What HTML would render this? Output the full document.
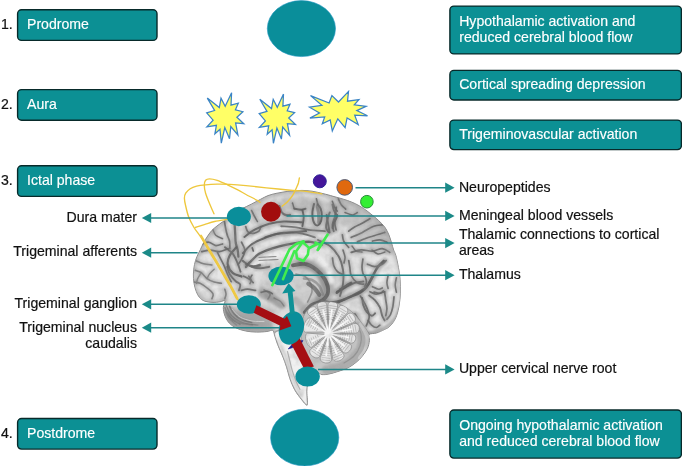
<!DOCTYPE html>
<html lang="en">
<head>
<meta charset="utf-8">
<title>Migraine phases</title>
<style>
html,body{margin:0;padding:0;background:#fff;}
body{width:682px;height:466px;overflow:hidden;position:relative;font-family:"Liberation Sans",Arial,sans-serif;}
svg{position:absolute;left:0;top:0;display:block;will-change:transform;}
svg text{font-family:"Liberation Sans",Arial,sans-serif;font-size:14.1px;}
.w{fill:#fff;stroke:#fff;stroke-width:0.15px;}
.k{fill:#111;stroke:#111;stroke-width:0.2px;}
.bx{fill:#0c9094;stroke:#082a2a;stroke-width:1.4;}
.ar{stroke:#1f8588;stroke-width:1.5;fill:none;}
.ah{fill:#1b8a88;}
.tl{fill:#0a8e9a;stroke:#1d93bf;stroke-width:0.6;}
</style>
</head>
<body>
<svg width="682" height="466" viewBox="0 0 682 466">
<defs>
<filter id="b0" x="-20%" y="-20%" width="140%" height="140%"><feGaussianBlur stdDeviation="0.45"/></filter>
<filter id="b1" x="-20%" y="-20%" width="140%" height="140%"><feGaussianBlur stdDeviation="0.65"/></filter>
<filter id="b2" x="-20%" y="-20%" width="140%" height="140%"><feGaussianBlur stdDeviation="1.3"/></filter>
<filter id="b4" x="-30%" y="-30%" width="160%" height="160%"><feGaussianBlur stdDeviation="4"/></filter>
<filter id="nz" x="0" y="0" width="100%" height="100%"><feTurbulence type="fractalNoise" baseFrequency="0.11" numOctaves="3" seed="7" result="n"/><feColorMatrix in="n" type="matrix" values="0 0 0 0 0.35  0 0 0 0 0.35  0 0 0 0 0.35  0 0 0 2.4 -0.95"/></filter>
<clipPath id="bc"><path d="M193.4,274.0 C193.5,270.9 193.9,267.3 194.5,264.4 C195.1,261.5 196.0,259.0 197.0,256.5 C198.0,254.0 199.3,251.9 200.4,249.6 C201.5,247.3 202.3,245.1 203.5,242.8 C204.7,240.5 206.3,238.1 207.7,236.0 C209.1,233.9 210.4,232.0 212.0,230.3 C213.6,228.6 215.3,227.3 217.0,226.0 C218.7,224.7 220.2,223.6 222.0,222.3 C223.8,221.1 225.5,220.0 227.5,218.5 C229.5,217.0 231.6,214.8 234.0,213.2 C236.4,211.6 239.1,210.2 242.0,208.7 C244.9,207.2 248.5,205.6 251.6,204.0 C254.7,202.4 257.7,200.8 260.4,199.4 C263.1,198.0 265.4,196.6 268.0,195.6 C270.6,194.6 273.3,194.0 276.0,193.4 C278.7,192.8 281.3,192.3 284.0,191.9 C286.7,191.5 289.0,191.2 292.0,191.0 C295.0,190.8 298.7,190.4 302.0,190.4 C305.3,190.4 308.5,190.7 312.0,191.2 C315.5,191.7 319.5,192.8 323.0,193.6 C326.5,194.4 330.2,195.5 333.0,196.3 C335.8,197.1 337.6,197.5 340.0,198.2 C342.4,198.9 345.1,199.7 347.7,200.6 C350.3,201.5 352.9,202.5 355.5,203.8 C358.1,205.1 360.6,206.5 363.2,208.2 C365.8,209.9 368.3,211.9 370.9,214.0 C373.5,216.1 376.2,218.2 378.6,220.5 C381.0,222.8 383.4,225.2 385.1,227.6 C386.8,230.0 387.9,232.6 389.0,235.1 C390.1,237.6 390.7,240.3 391.5,242.8 C392.3,245.3 392.9,247.9 393.6,250.0 C394.3,252.1 395.0,252.4 395.8,255.3 C396.6,258.2 397.7,263.3 398.4,267.3 C399.1,271.3 399.8,275.0 400.1,279.3 C400.4,283.6 400.5,288.8 400.4,293.1 C400.2,297.4 399.8,301.4 399.2,305.1 C398.6,308.8 397.7,312.5 396.7,315.4 C395.7,318.3 394.5,320.4 393.2,322.3 C391.9,324.2 390.5,325.8 389.0,327.0 C387.5,328.2 386.4,328.6 384.3,329.6 C382.2,330.6 379.0,332.2 376.5,333.0 C374.0,333.8 370.4,333.2 369.2,334.5 C368.0,335.8 369.7,338.3 369.4,340.6 C369.1,342.9 368.7,345.7 367.5,348.3 C366.3,350.9 364.3,353.6 362.4,356.0 C360.5,358.4 358.3,360.6 355.9,362.5 C353.5,364.4 351.2,366.2 348.2,367.7 C345.2,369.2 341.1,370.4 337.9,371.5 C334.7,372.6 331.5,373.5 328.9,374.0 C326.2,374.5 324.1,374.9 322.0,374.6 C319.9,374.3 318.2,371.1 316.0,372.0 C313.8,372.9 310.5,377.0 309.0,380.0 C307.5,383.0 307.1,386.1 306.9,390.0 C306.6,393.9 307.7,401.0 307.5,403.4 C307.3,405.8 307.1,405.5 305.9,404.6 C304.7,403.7 302.1,400.3 300.2,397.8 C298.3,395.3 296.3,392.9 294.6,389.7 C292.9,386.5 291.1,382.2 289.8,378.5 C288.5,374.8 287.8,371.0 286.6,367.2 C285.4,363.4 284.0,359.6 282.5,355.9 C281.0,352.1 279.0,348.2 277.7,344.7 C276.4,341.2 275.3,337.4 274.5,335.0 C273.7,332.6 274.1,331.0 272.8,330.4 C271.5,329.8 269.6,331.2 266.9,331.5 C264.1,331.8 259.8,332.2 256.3,332.1 C252.8,332.0 249.0,331.7 245.7,331.0 C242.3,330.3 238.9,329.3 236.2,328.0 C233.4,326.7 231.1,325.0 229.2,323.0 C227.3,321.0 226.0,318.6 225.0,316.0 C224.0,313.4 223.3,310.2 223.3,307.7 C223.3,305.2 225.5,301.8 225.0,300.8 C224.5,299.8 222.1,301.5 220.1,301.8 C218.1,302.1 215.6,302.5 213.0,302.4 C210.4,302.3 207.1,302.0 204.8,301.2 C202.5,300.4 200.8,298.9 199.4,297.3 C198.0,295.7 197.2,293.9 196.3,291.6 C195.4,289.3 194.5,286.2 194.0,283.3 C193.5,280.4 193.3,277.1 193.4,274.0 Z"/></clipPath>
<clipPath id="cc"><path d="M302.0,322.0 C302.8,318.0 304.0,314.8 306.0,312.0 C308.0,309.2 311.0,306.7 314.0,305.0 C317.0,303.3 320.3,302.3 324.0,302.0 C327.7,301.7 332.2,302.0 336.0,303.0 C339.8,304.0 343.7,305.8 347.0,308.0 C350.3,310.2 353.2,313.0 356.0,316.0 C358.8,319.0 361.8,322.9 364.0,326.0 C366.2,329.1 368.3,332.1 369.2,334.5 C370.1,336.9 369.7,338.3 369.4,340.6 C369.1,342.9 368.7,345.7 367.5,348.3 C366.3,350.9 364.3,353.6 362.4,356.0 C360.5,358.4 358.3,360.6 355.9,362.5 C353.5,364.4 351.2,366.2 348.2,367.7 C345.2,369.2 341.1,370.4 337.9,371.5 C334.7,372.6 331.5,373.5 328.9,374.0 C326.2,374.5 324.5,375.1 322.0,374.6 C319.5,374.1 316.5,373.1 314.0,371.0 C311.5,368.9 308.8,365.5 307.0,362.0 C305.2,358.5 304.0,354.3 303.0,350.0 C302.0,345.7 301.2,340.7 301.0,336.0 C300.8,331.3 301.2,326.0 302.0,322.0 Z"/></clipPath>
</defs>
<g id="brain">
<path d="M193.4,274.0 C193.5,270.9 193.9,267.3 194.5,264.4 C195.1,261.5 196.0,259.0 197.0,256.5 C198.0,254.0 199.3,251.9 200.4,249.6 C201.5,247.3 202.3,245.1 203.5,242.8 C204.7,240.5 206.3,238.1 207.7,236.0 C209.1,233.9 210.4,232.0 212.0,230.3 C213.6,228.6 215.3,227.3 217.0,226.0 C218.7,224.7 220.2,223.6 222.0,222.3 C223.8,221.1 225.5,220.0 227.5,218.5 C229.5,217.0 231.6,214.8 234.0,213.2 C236.4,211.6 239.1,210.2 242.0,208.7 C244.9,207.2 248.5,205.6 251.6,204.0 C254.7,202.4 257.7,200.8 260.4,199.4 C263.1,198.0 265.4,196.6 268.0,195.6 C270.6,194.6 273.3,194.0 276.0,193.4 C278.7,192.8 281.3,192.3 284.0,191.9 C286.7,191.5 289.0,191.2 292.0,191.0 C295.0,190.8 298.7,190.4 302.0,190.4 C305.3,190.4 308.5,190.7 312.0,191.2 C315.5,191.7 319.5,192.8 323.0,193.6 C326.5,194.4 330.2,195.5 333.0,196.3 C335.8,197.1 337.6,197.5 340.0,198.2 C342.4,198.9 345.1,199.7 347.7,200.6 C350.3,201.5 352.9,202.5 355.5,203.8 C358.1,205.1 360.6,206.5 363.2,208.2 C365.8,209.9 368.3,211.9 370.9,214.0 C373.5,216.1 376.2,218.2 378.6,220.5 C381.0,222.8 383.4,225.2 385.1,227.6 C386.8,230.0 387.9,232.6 389.0,235.1 C390.1,237.6 390.7,240.3 391.5,242.8 C392.3,245.3 392.9,247.9 393.6,250.0 C394.3,252.1 395.0,252.4 395.8,255.3 C396.6,258.2 397.7,263.3 398.4,267.3 C399.1,271.3 399.8,275.0 400.1,279.3 C400.4,283.6 400.5,288.8 400.4,293.1 C400.2,297.4 399.8,301.4 399.2,305.1 C398.6,308.8 397.7,312.5 396.7,315.4 C395.7,318.3 394.5,320.4 393.2,322.3 C391.9,324.2 390.5,325.8 389.0,327.0 C387.5,328.2 386.4,328.6 384.3,329.6 C382.2,330.6 379.0,332.2 376.5,333.0 C374.0,333.8 370.4,333.2 369.2,334.5 C368.0,335.8 369.7,338.3 369.4,340.6 C369.1,342.9 368.7,345.7 367.5,348.3 C366.3,350.9 364.3,353.6 362.4,356.0 C360.5,358.4 358.3,360.6 355.9,362.5 C353.5,364.4 351.2,366.2 348.2,367.7 C345.2,369.2 341.1,370.4 337.9,371.5 C334.7,372.6 331.5,373.5 328.9,374.0 C326.2,374.5 324.1,374.9 322.0,374.6 C319.9,374.3 318.2,371.1 316.0,372.0 C313.8,372.9 310.5,377.0 309.0,380.0 C307.5,383.0 307.1,386.1 306.9,390.0 C306.6,393.9 307.7,401.0 307.5,403.4 C307.3,405.8 307.1,405.5 305.9,404.6 C304.7,403.7 302.1,400.3 300.2,397.8 C298.3,395.3 296.3,392.9 294.6,389.7 C292.9,386.5 291.1,382.2 289.8,378.5 C288.5,374.8 287.8,371.0 286.6,367.2 C285.4,363.4 284.0,359.6 282.5,355.9 C281.0,352.1 279.0,348.2 277.7,344.7 C276.4,341.2 275.3,337.4 274.5,335.0 C273.7,332.6 274.1,331.0 272.8,330.4 C271.5,329.8 269.6,331.2 266.9,331.5 C264.1,331.8 259.8,332.2 256.3,332.1 C252.8,332.0 249.0,331.7 245.7,331.0 C242.3,330.3 238.9,329.3 236.2,328.0 C233.4,326.7 231.1,325.0 229.2,323.0 C227.3,321.0 226.0,318.6 225.0,316.0 C224.0,313.4 223.3,310.2 223.3,307.7 C223.3,305.2 225.5,301.8 225.0,300.8 C224.5,299.8 222.1,301.5 220.1,301.8 C218.1,302.1 215.6,302.5 213.0,302.4 C210.4,302.3 207.1,302.0 204.8,301.2 C202.5,300.4 200.8,298.9 199.4,297.3 C198.0,295.7 197.2,293.9 196.3,291.6 C195.4,289.3 194.5,286.2 194.0,283.3 C193.5,280.4 193.3,277.1 193.4,274.0 Z" fill="#e0e0e0" stroke="#8c8c8c" stroke-width="1" filter="url(#b0)"/>
<g clip-path="url(#bc)">
<path d="M193.4,274.0 C193.5,270.9 193.9,267.3 194.5,264.4 C195.1,261.5 196.0,259.0 197.0,256.5 C198.0,254.0 199.3,251.9 200.4,249.6 C201.5,247.3 202.3,245.1 203.5,242.8 C204.7,240.5 206.3,238.1 207.7,236.0 C209.1,233.9 210.4,232.0 212.0,230.3 C213.6,228.6 215.3,227.3 217.0,226.0 C218.7,224.7 220.2,223.6 222.0,222.3 C223.8,221.1 225.5,220.0 227.5,218.5 C229.5,217.0 231.6,214.8 234.0,213.2 C236.4,211.6 239.1,210.2 242.0,208.7 C244.9,207.2 248.5,205.6 251.6,204.0 C254.7,202.4 257.7,200.8 260.4,199.4 C263.1,198.0 265.4,196.6 268.0,195.6 C270.6,194.6 273.3,194.0 276.0,193.4 C278.7,192.8 281.3,192.3 284.0,191.9 C286.7,191.5 289.0,191.2 292.0,191.0 C295.0,190.8 298.7,190.4 302.0,190.4 C305.3,190.4 308.5,190.7 312.0,191.2 C315.5,191.7 319.5,192.8 323.0,193.6 C326.5,194.4 330.2,195.5 333.0,196.3 C335.8,197.1 337.6,197.5 340.0,198.2 C342.4,198.9 345.1,199.7 347.7,200.6 C350.3,201.5 352.9,202.5 355.5,203.8 C358.1,205.1 360.6,206.5 363.2,208.2 C365.8,209.9 368.3,211.9 370.9,214.0 C373.5,216.1 376.2,218.2 378.6,220.5 C381.0,222.8 383.4,225.2 385.1,227.6 C386.8,230.0 387.9,232.6 389.0,235.1 C390.1,237.6 390.7,240.3 391.5,242.8 C392.3,245.3 392.9,247.9 393.6,250.0 C394.3,252.1 395.0,252.4 395.8,255.3 C396.6,258.2 397.7,263.3 398.4,267.3 C399.1,271.3 399.8,275.0 400.1,279.3 C400.4,283.6 400.5,288.8 400.4,293.1 C400.2,297.4 399.8,301.4 399.2,305.1 C398.6,308.8 397.7,312.5 396.7,315.4 C395.7,318.3 394.5,320.4 393.2,322.3 C391.9,324.2 390.5,325.8 389.0,327.0 C387.5,328.2 386.4,328.6 384.3,329.6 C382.2,330.6 379.0,332.2 376.5,333.0 C374.0,333.8 370.4,333.2 369.2,334.5 C368.0,335.8 369.7,338.3 369.4,340.6 C369.1,342.9 368.7,345.7 367.5,348.3 C366.3,350.9 364.3,353.6 362.4,356.0 C360.5,358.4 358.3,360.6 355.9,362.5 C353.5,364.4 351.2,366.2 348.2,367.7 C345.2,369.2 341.1,370.4 337.9,371.5 C334.7,372.6 331.5,373.5 328.9,374.0 C326.2,374.5 324.1,374.9 322.0,374.6 C319.9,374.3 318.2,371.1 316.0,372.0 C313.8,372.9 310.5,377.0 309.0,380.0 C307.5,383.0 307.1,386.1 306.9,390.0 C306.6,393.9 307.7,401.0 307.5,403.4 C307.3,405.8 307.1,405.5 305.9,404.6 C304.7,403.7 302.1,400.3 300.2,397.8 C298.3,395.3 296.3,392.9 294.6,389.7 C292.9,386.5 291.1,382.2 289.8,378.5 C288.5,374.8 287.8,371.0 286.6,367.2 C285.4,363.4 284.0,359.6 282.5,355.9 C281.0,352.1 279.0,348.2 277.7,344.7 C276.4,341.2 275.3,337.4 274.5,335.0 C273.7,332.6 274.1,331.0 272.8,330.4 C271.5,329.8 269.6,331.2 266.9,331.5 C264.1,331.8 259.8,332.2 256.3,332.1 C252.8,332.0 249.0,331.7 245.7,331.0 C242.3,330.3 238.9,329.3 236.2,328.0 C233.4,326.7 231.1,325.0 229.2,323.0 C227.3,321.0 226.0,318.6 225.0,316.0 C224.0,313.4 223.3,310.2 223.3,307.7 C223.3,305.2 225.5,301.8 225.0,300.8 C224.5,299.8 222.1,301.5 220.1,301.8 C218.1,302.1 215.6,302.5 213.0,302.4 C210.4,302.3 207.1,302.0 204.8,301.2 C202.5,300.4 200.8,298.9 199.4,297.3 C198.0,295.7 197.2,293.9 196.3,291.6 C195.4,289.3 194.5,286.2 194.0,283.3 C193.5,280.4 193.3,277.1 193.4,274.0 Z" fill="none" stroke="#808080" stroke-width="6" opacity="0.32" filter="url(#b2)"/>
<g filter="url(#b4)">
<ellipse cx="300" cy="285" rx="40" ry="26" fill="#c0c0c0" opacity="0.5"/>
<path d="M336,203 Q366,212 384,234 T396,262" fill="none" stroke="#a2a2a2" stroke-width="16" opacity="0.5"/>
<path d="M250,212 Q280,202 318,204" fill="none" stroke="#a8a8a8" stroke-width="12" opacity="0.4"/>
<ellipse cx="300" cy="215" rx="55" ry="14" fill="#c4c4c4" opacity="0.45"/>
<ellipse cx="250" cy="318" rx="26" ry="12" fill="#9c9c9c" opacity="0.85"/>
<ellipse cx="385" cy="290" rx="16" ry="40" fill="#eeeeee" opacity="0.8"/>
<ellipse cx="210" cy="275" rx="14" ry="22" fill="#e8e8e8" opacity="0.8"/>
</g>
<g fill="none" stroke-linecap="round" stroke-linejoin="round" filter="url(#b2)">
<path d="M224.5,221.5 C224.7,222.9 225.4,227.3 225.9,229.6 C226.4,231.9 226.8,233.5 227.4,235.5 C228.0,237.4 229.2,239.1 229.6,241.3 C230.0,243.5 229.8,247.4 229.9,248.7" stroke="#848484" stroke-width="5.0" opacity="0.36"/>
<path d="M234.7,225.2 C234.8,226.7 235.0,231.1 235.2,234.0 C235.3,236.9 235.3,240.1 235.7,242.8 C236.2,245.5 237.2,247.8 237.7,250.1 C238.1,252.4 238.3,255.6 238.4,256.7" stroke="#848484" stroke-width="6.7" opacity="0.36"/>
<path d="M245.7,226.7 C246.1,227.5 246.7,230.7 247.9,231.8 C249.1,232.9 251.2,233.4 253.0,233.3 C254.9,233.1 257.6,232.2 258.9,231.1 C260.2,230.0 260.4,227.4 260.7,226.7" stroke="#848484" stroke-width="5.0" opacity="0.36"/>
<path d="M251.6,210.5 C252.1,211.5 253.5,214.6 254.5,216.4 C255.5,218.2 257.0,220.7 257.4,221.5" stroke="#848484" stroke-width="4.6" opacity="0.36"/>
<path d="M201.7,251.6 C203.2,251.3 207.6,250.1 210.5,250.1 C213.5,250.1 216.4,251.8 219.3,251.6 C222.3,251.3 226.7,249.1 228.1,248.7" stroke="#848484" stroke-width="5.0" opacity="0.36"/>
<path d="M279.4,206.1 C279.8,207.1 280.7,210.5 281.6,212.0 C282.6,213.5 283.9,214.4 285.3,214.9 C286.7,215.4 289.2,214.9 290.0,214.9" stroke="#848484" stroke-width="6.3" opacity="0.36"/>
<path d="M252.3,247.9 L253.3,250.9" stroke="#848484" stroke-width="5.0" opacity="0.36"/>
<path d="M332.5,204.7 C332.8,205.6 333.3,208.6 334.0,210.5 C334.7,212.5 336.9,214.4 336.9,216.4 C336.9,218.3 334.7,220.3 334.0,222.3 C333.3,224.2 332.8,227.1 332.5,228.1" stroke="#848484" stroke-width="5.9" opacity="0.36"/>
<path d="M326.7,214.9 C326.9,216.4 327.6,220.8 328.1,223.7 C328.6,226.7 329.3,231.1 329.6,232.5" stroke="#848484" stroke-width="5.9" opacity="0.36"/>
<path d="M338.4,198.8 C338.9,199.8 340.1,203.0 341.3,204.7 C342.5,206.4 345.0,208.3 345.7,209.1" stroke="#848484" stroke-width="4.6" opacity="0.36"/>
<path d="M316.4,198.8 L317.9,204.7" stroke="#848484" stroke-width="4.6" opacity="0.36"/>
<path d="M196.5,260.9 C197.7,261.4 201.0,263.2 203.6,263.8 C206.2,264.5 210.5,264.8 211.9,265.0" stroke="#848484" stroke-width="4.6" opacity="0.36"/>
<path d="M195.3,270.3 C196.3,270.7 199.3,271.3 201.2,272.7 C203.2,274.1 205.0,277.0 207.1,278.6 C209.3,280.2 211.9,281.4 214.2,282.1 C216.6,282.9 220.1,283.1 221.3,283.3" stroke="#848484" stroke-width="4.6" opacity="0.36"/>
<path d="M194.2,282.1 C195.1,282.3 197.9,282.3 200.1,283.3 C202.2,284.3 205.0,286.3 207.1,288.0 C209.3,289.8 212.3,292.2 213.0,293.9 C213.8,295.7 212.1,297.9 211.9,298.7" stroke="#848484" stroke-width="4.6" opacity="0.36"/>
<path d="M201.2,272.7 C200.6,273.7 198.5,276.8 197.7,278.6 C196.9,280.4 196.7,282.5 196.5,283.3" stroke="#848484" stroke-width="4.2" opacity="0.36"/>
<path d="M207.1,278.6 C207.5,277.8 208.3,275.5 209.5,273.9 C210.7,272.3 213.4,269.9 214.2,269.2" stroke="#848484" stroke-width="4.2" opacity="0.36"/>
<path d="M224.8,289.2 C225.0,290.0 226.0,292.4 226.0,293.9 C226.0,295.5 225.0,297.9 224.8,298.7" stroke="#848484" stroke-width="4.6" opacity="0.36"/>
<path d="M227.2,266.8 C227.6,268.0 228.2,271.5 229.6,273.9 C230.9,276.2 233.7,279.2 235.5,281.0 C237.2,282.7 239.6,282.9 240.2,284.5 C240.8,286.1 239.2,289.4 239.0,290.4" stroke="#848484" stroke-width="5.5" opacity="0.36"/>
<path d="M243.7,276.2 C244.7,276.7 248.0,278.1 249.6,279.2 C251.2,280.3 252.6,282.1 253.2,282.7" stroke="#848484" stroke-width="5.0" opacity="0.36"/>
<path d="M249.6,279.2 L252.0,275.1" stroke="#848484" stroke-width="4.6" opacity="0.36"/>
<path d="M246.1,264.4 C247.3,264.8 250.8,266.6 253.2,266.8 C255.5,267.0 258.9,265.8 260.0,265.6" stroke="#848484" stroke-width="5.5" opacity="0.36"/>
<path d="M241.4,290.4 C242.3,290.2 244.9,289.2 247.3,289.2 C249.6,289.2 254.1,290.2 255.5,290.4" stroke="#848484" stroke-width="5.0" opacity="0.36"/>
<path d="M229.6,306.4 C230.3,307.6 232.0,311.5 234.0,313.7 C235.9,315.9 238.4,318.1 241.3,319.6 C244.3,321.0 249.9,322.0 251.6,322.5" stroke="#848484" stroke-width="5.0" opacity="0.36"/>
<path d="M226.7,312.3 C227.6,313.5 230.3,317.6 232.5,319.6 C234.7,321.5 238.6,323.2 239.9,324.0" stroke="#848484" stroke-width="4.6" opacity="0.36"/>
<path d="M242.8,260.9 C244.3,261.9 248.7,265.6 251.6,266.8 C254.5,268.0 257.4,268.3 260.4,268.3 C263.3,268.3 267.7,267.0 269.2,266.8" stroke="#848484" stroke-width="5.9" opacity="0.36"/>
<path d="M292.9,265.3 C294.9,265.1 300.8,263.1 304.7,263.9 C308.6,264.6 313.0,267.0 316.4,269.7 C319.8,272.4 323.2,276.3 325.2,280.0 C327.1,283.7 328.6,288.3 328.1,291.7 C327.6,295.1 324.9,298.3 322.3,300.5 C319.6,302.7 314.9,303.0 312.0,304.9 C309.1,306.9 305.9,311.0 304.7,312.3" stroke="#848484" stroke-width="10.9" opacity="0.36"/>
<path d="M298.8,264.6 C300.8,265.0 306.7,265.1 310.5,266.8 C314.3,268.5 318.8,271.4 321.5,274.9 C324.3,278.3 326.5,283.5 327.0,287.3 C327.4,291.1 326.5,294.9 324.5,297.6 C322.5,300.3 316.5,302.7 314.9,303.7" stroke="#7a7a7a" stroke-width="5.5" opacity="0.50"/>
<path d="M326.7,303.5 C329.1,303.0 336.7,302.0 341.3,300.5 C346.0,299.1 350.4,296.9 354.5,294.7 C358.7,292.5 363.3,290.3 366.2,287.3 C369.2,284.4 370.2,280.5 372.1,277.1 C374.1,273.6 376.0,269.5 378.0,266.8 C379.9,264.1 382.9,261.9 383.8,260.9" stroke="#848484" stroke-width="7.1" opacity="0.36"/>
<path d="M360.4,296.1 C361.4,297.8 364.8,303.0 366.2,306.4 C367.7,309.8 369.2,313.4 369.2,316.7 C369.2,319.9 366.7,324.5 366.2,326.0" stroke="#848484" stroke-width="5.0" opacity="0.36"/>
<path d="M336.9,291.7 C338.4,291.0 342.8,288.8 345.7,287.3 C348.7,285.9 351.6,283.9 354.5,282.9 C357.4,281.9 361.8,281.7 363.3,281.5" stroke="#848484" stroke-width="5.9" opacity="0.36"/>
<path d="M225.0,247.2 C226.3,248.3 230.6,250.9 232.7,253.6 C234.9,256.4 236.6,260.9 237.9,264.0 C239.2,267.0 240.0,270.4 240.5,271.7" stroke="#848484" stroke-width="5.5" opacity="0.36"/>
<path d="M348.7,231.2 C349.7,230.4 352.8,228.1 354.9,226.8 C357.0,225.6 358.7,225.0 361.1,223.7 C363.6,222.3 368.4,219.5 369.9,218.7" stroke="#848484" stroke-width="5.0" opacity="0.36"/>
<path d="M351.2,237.4 C353.0,236.6 358.7,234.3 362.4,232.4 C366.1,230.5 370.3,227.4 373.6,226.2 C376.9,224.9 380.9,225.1 382.3,224.9" stroke="#848484" stroke-width="5.0" opacity="0.36"/>
<path d="M357.4,241.8 C358.7,241.3 362.4,239.6 364.9,238.7 C367.4,237.7 369.0,237.2 372.4,236.2 C375.7,235.1 382.8,233.0 384.8,232.4" stroke="#848484" stroke-width="5.0" opacity="0.36"/>
<path d="M336.2,207.5 C336.0,208.9 335.6,213.3 335.0,216.2 C334.3,219.1 332.7,222.4 332.5,224.9 C332.3,227.4 333.5,230.1 333.7,231.2" stroke="#848484" stroke-width="5.5" opacity="0.36"/>
<path d="M342.4,234.9 C342.7,236.0 342.7,239.1 343.7,241.1 C344.7,243.2 347.8,246.3 348.7,247.4" stroke="#848484" stroke-width="5.0" opacity="0.36"/>
<path d="M351.2,252.4 C352.8,252.0 357.6,250.1 361.1,249.9 C364.7,249.7 368.8,251.3 372.4,251.1 C375.9,250.9 379.4,248.4 382.3,248.6 C385.3,248.8 388.6,251.7 389.8,252.4" stroke="#848484" stroke-width="5.0" opacity="0.36"/>
<path d="M344.9,212.5 C346.2,212.9 350.3,215.0 352.4,215.0 C354.5,215.0 356.6,212.9 357.4,212.5" stroke="#848484" stroke-width="4.2" opacity="0.36"/>
<path d="M372.4,241.1 C373.6,240.9 377.4,239.7 379.9,239.9 C382.3,240.1 386.1,242.0 387.3,242.4" stroke="#848484" stroke-width="4.6" opacity="0.36"/>
<path d="M332.5,258.0 C332.7,259.2 332.9,263.2 333.7,265.5 C334.5,267.8 336.0,270.3 337.5,271.7 C338.9,273.2 341.6,273.8 342.4,274.2" stroke="#848484" stroke-width="5.0" opacity="0.36"/>
<path d="M348.7,260.5 C348.9,261.7 349.5,265.5 349.9,268.0 C350.3,270.5 349.9,273.0 351.2,275.5 C352.4,278.0 355.3,281.5 357.4,282.9 C359.5,284.4 362.6,284.0 363.6,284.2" stroke="#848484" stroke-width="5.0" opacity="0.36"/>
<path d="M367.4,264.2 C368.6,264.7 372.4,266.7 374.9,266.7 C377.4,266.7 380.5,265.3 382.3,264.2 C384.2,263.2 385.5,261.1 386.1,260.5" stroke="#848484" stroke-width="5.0" opacity="0.36"/>
<path d="M336.8,292.7 C338.2,291.7 342.5,288.5 344.9,286.9 C347.3,285.3 350.1,283.6 351.2,282.9" stroke="#848484" stroke-width="7.6" opacity="0.36"/>
<path d="M337.5,302.9 C339.1,302.1 344.1,299.4 347.4,297.9 C350.8,296.4 354.5,295.6 357.4,294.2 C360.3,292.7 362.8,291.3 364.9,289.2 C367.0,287.1 368.4,284.0 369.9,281.7 C371.3,279.4 373.0,276.5 373.6,275.5" stroke="#848484" stroke-width="6.3" opacity="0.36"/>
<path d="M372.4,286.7 C373.4,287.1 376.9,289.0 378.6,289.2 C380.3,289.4 381.7,288.1 382.3,287.9" stroke="#848484" stroke-width="4.6" opacity="0.36"/>
<path d="M369.9,291.7 C370.9,292.1 373.6,294.2 376.1,294.2 C378.6,294.2 383.4,292.1 384.8,291.7" stroke="#848484" stroke-width="4.6" opacity="0.36"/>
<path d="M320.0,300.4 C321.2,300.6 325.0,301.1 327.5,301.6 C330.0,302.2 333.7,303.2 335.0,303.5" stroke="#848484" stroke-width="5.5" opacity="0.36"/>
<path d="M294.3,208.7 C295.4,208.9 299.3,209.7 301.2,209.7 C303.0,209.7 304.8,208.9 305.5,208.7" stroke="#848484" stroke-width="5.9" opacity="0.36"/>
<path d="M302.4,210.0 C302.6,211.2 303.7,214.7 303.7,217.4 C303.7,220.1 302.6,224.7 302.4,226.2" stroke="#848484" stroke-width="5.5" opacity="0.36"/>
<path d="M329.8,212.4 C329.4,213.7 328.0,217.4 327.3,219.9 C326.7,222.4 325.9,225.3 326.1,227.4 C326.3,229.5 328.2,231.6 328.6,232.4" stroke="#848484" stroke-width="5.5" opacity="0.36"/>
<path d="M337.3,214.9 C336.9,216.2 335.0,219.9 334.8,222.4 C334.6,224.9 335.9,228.7 336.1,229.9" stroke="#848484" stroke-width="5.0" opacity="0.36"/>
<path d="M332.3,201.2 C332.7,202.3 334.0,205.8 334.8,207.5 C335.7,209.1 336.9,210.6 337.3,211.2" stroke="#848484" stroke-width="4.6" opacity="0.36"/>
<path d="M281.2,226.2 C283.7,226.4 291.6,226.8 296.2,227.4 C300.7,228.0 303.9,229.3 308.6,229.9 C313.4,230.5 322.1,230.9 324.9,231.1" stroke="#848484" stroke-width="5.5" opacity="0.36"/>
<path d="M265.0,237.4 C267.1,236.8 273.3,234.5 277.5,233.6 C281.6,232.8 285.8,232.4 289.9,232.4 C294.1,232.4 298.3,232.8 302.4,233.6 C306.6,234.5 312.8,236.8 314.9,237.4" stroke="#848484" stroke-width="5.5" opacity="0.36"/>
<path d="M248.7,276.2 C249.1,276.9 251.0,278.7 251.2,280.0 C251.4,281.2 250.1,283.1 249.9,283.7" stroke="#848484" stroke-width="4.2" opacity="0.36"/>
<path d="M266.1,295.6 C266.8,296.0 268.3,297.4 269.9,298.1 C271.4,298.7 274.6,299.1 275.5,299.3" stroke="#808080" stroke-width="4.0" opacity="0.60"/>
<path d="M227.5,312.4 C228.5,313.6 231.2,318.0 233.7,319.9 C236.2,321.7 239.3,322.8 242.4,323.6 C245.6,324.4 250.8,324.7 252.4,324.9" stroke="#848484" stroke-width="4.2" opacity="0.36"/>
<path d="M225.0,307.4 C225.6,309.1 226.9,314.5 228.7,317.4 C230.6,320.3 235.0,323.6 236.2,324.9" stroke="#848484" stroke-width="4.2" opacity="0.36"/>
<path d="M261.1,292.4 C262.2,292.2 265.5,291.0 267.4,291.2 C269.3,291.4 271.5,293.3 272.4,293.7" stroke="#848484" stroke-width="4.6" opacity="0.36"/>
<path d="M340.0,215.0 C343.3,217.2 354.2,223.0 360.0,228.0 C365.8,233.0 372.5,242.2 375.0,245.0" stroke="#bdbdbd" stroke-width="14.0" opacity="0.50"/>
<path d="M285.0,205.0 C288.3,204.7 298.3,202.7 305.0,203.0 C311.7,203.3 321.7,206.3 325.0,207.0" stroke="#bdbdbd" stroke-width="12.0" opacity="0.50"/>
<path d="M202.0,243.9 C203.2,243.6 206.6,241.9 208.9,242.2 C211.2,242.5 213.5,245.3 215.8,245.6 C218.0,245.9 221.5,244.2 222.6,243.9" stroke="#848484" stroke-width="4.6" opacity="0.36"/>
<path d="M217.5,252.5 C218.0,253.6 219.8,257.0 220.9,259.3 C222.0,261.6 223.2,263.6 224.3,266.2 C225.5,268.8 226.6,272.2 227.8,274.8 C228.9,277.4 230.6,280.5 231.2,281.7" stroke="#848484" stroke-width="4.6" opacity="0.36"/>
<path d="M236.4,247.3 C235.2,248.7 230.9,253.0 229.5,255.9 C228.1,258.8 227.2,261.6 227.8,264.5 C228.3,267.3 230.6,271.1 232.9,273.1 C235.2,275.1 240.1,275.9 241.5,276.5" stroke="#848484" stroke-width="6.3" opacity="0.36"/>
<path d="M241.5,242.2 C242.1,243.6 244.9,247.9 244.9,250.8 C244.9,253.6 242.6,257.0 241.5,259.3 C240.4,261.6 238.6,263.6 238.1,264.5" stroke="#848484" stroke-width="5.0" opacity="0.36"/>
<path d="M246.7,264.5 C247.8,264.8 251.3,266.2 253.5,266.2 C255.8,266.2 259.0,264.8 260.0,264.5" stroke="#848484" stroke-width="5.0" opacity="0.36"/>
<path d="M212.3,228.4 C212.9,229.6 214.0,233.6 215.8,235.3 C217.5,237.0 221.5,238.2 222.6,238.7" stroke="#848484" stroke-width="4.2" opacity="0.36"/>
<path d="M362.2,298.0 C362.4,299.2 362.5,302.7 363.3,305.1 C364.1,307.4 365.5,310.4 366.9,312.2 C368.3,313.9 370.2,315.5 371.6,315.7 C373.0,315.9 374.6,313.7 375.1,313.3" stroke="#848484" stroke-width="5.5" opacity="0.36"/>
<path d="M369.2,295.6 C370.2,296.4 373.4,298.4 375.1,300.3 C376.9,302.3 378.7,304.9 379.9,307.4 C381.0,310.0 381.4,313.5 382.2,315.7 C383.0,317.9 384.2,319.6 384.6,320.4" stroke="#848484" stroke-width="5.5" opacity="0.36"/>
<path d="M384.6,292.1 C384.8,293.5 385.4,297.6 385.8,300.3 C386.2,303.1 386.9,306.1 386.9,308.6 C386.9,311.2 386.0,314.5 385.8,315.7" stroke="#848484" stroke-width="5.0" opacity="0.36"/>
<path d="M394.0,296.8 C393.8,298.4 393.4,303.3 392.9,306.3 C392.3,309.2 391.5,312.4 390.5,314.5 C389.5,316.7 387.5,318.5 386.9,319.2" stroke="#848484" stroke-width="5.0" opacity="0.36"/>
<path d="M368.1,320.4 C368.6,321.2 370.2,324.0 371.6,325.1 C373.0,326.3 374.9,327.5 376.3,327.5 C377.7,327.5 379.3,325.5 379.9,325.1" stroke="#848484" stroke-width="5.0" opacity="0.36"/>
<path d="M374.0,292.1 C374.9,292.3 378.3,293.5 379.9,293.3 C381.4,293.1 382.8,291.3 383.4,290.9" stroke="#848484" stroke-width="4.6" opacity="0.36"/>
<path d="M355.1,314.5 C355.7,315.5 357.4,318.3 358.6,320.4 C359.8,322.6 360.6,325.3 362.2,327.5 C363.7,329.7 367.1,332.4 368.1,333.4" stroke="#848484" stroke-width="6.3" opacity="0.36"/>
<path d="M349.2,312.2 L355.1,314.5" stroke="#848484" stroke-width="5.0" opacity="0.36"/>
<path d="M396.4,277.9 C396.2,279.1 395.2,282.6 395.2,285.0 C395.2,287.4 396.2,290.9 396.4,292.1" stroke="#848484" stroke-width="4.6" opacity="0.36"/>
<path d="M388.1,275.6 C387.9,276.7 386.9,280.5 386.9,282.6 C386.9,284.8 387.9,287.6 388.1,288.5" stroke="#848484" stroke-width="4.6" opacity="0.36"/>
<path d="M370.4,334.0 C372.4,333.2 378.9,331.0 382.2,329.3 C385.6,327.5 388.1,325.4 390.5,323.4 C392.9,321.3 394.9,319.3 396.4,316.9 C397.9,314.4 399.1,310.0 399.7,308.6" stroke="#8c8c8c" stroke-width="3.5" opacity="0.55"/>
<path d="M314.0,204.0 C313.7,205.3 312.6,209.3 312.4,212.0 C312.2,214.7 312.4,217.8 313.0,220.0 C313.6,222.2 314.8,224.6 316.0,225.2 C317.2,225.8 319.0,225.0 320.0,223.5 C321.0,222.0 321.7,218.5 321.8,216.0 C321.9,213.5 321.3,210.5 320.6,208.5 C319.9,206.5 318.0,204.9 317.5,204.2" stroke="#848484" stroke-width="5.9" opacity="0.36"/>
<path d="M292.5,203.0 L294.0,208.0" stroke="#848484" stroke-width="4.2" opacity="0.36"/>
<path d="M362.9,259.0 C362.8,260.3 362.0,264.6 362.0,267.0 C362.0,269.4 362.3,271.4 362.9,273.2 C363.5,275.0 364.9,276.0 365.5,277.6 C366.1,279.2 366.5,281.4 366.4,282.9 C366.2,284.4 364.9,285.8 364.6,286.4" stroke="#848484" stroke-width="5.0" opacity="0.36"/>
<path d="M340.0,289.0 C340.9,288.6 343.8,287.3 345.3,286.4 C346.8,285.5 348.2,284.1 348.8,283.7" stroke="#848484" stroke-width="4.6" opacity="0.36"/>
<path d="M343.0,250.0 C343.3,251.2 344.8,254.8 345.0,257.0 C345.2,259.2 344.2,262.0 344.0,263.0" stroke="#848484" stroke-width="4.6" opacity="0.36"/>
<path d="M352.0,246.0 C352.7,246.8 354.3,250.0 356.0,251.0 C357.7,252.0 361.0,251.8 362.0,252.0" stroke="#848484" stroke-width="4.2" opacity="0.36"/>
<path d="M372.0,250.0 C373.0,250.7 375.8,253.7 378.0,254.0 C380.2,254.3 383.8,252.3 385.0,252.0" stroke="#848484" stroke-width="4.2" opacity="0.36"/>
<path d="M244.4,237.0 C246.1,235.8 250.5,231.9 254.7,229.7 C258.8,227.5 264.4,225.2 269.3,223.8 C274.2,222.5 278.6,221.8 284.0,221.6 C289.4,221.3 298.7,222.2 301.6,222.3" stroke="#848484" stroke-width="5.9" opacity="0.36"/>
<path d="M242.9,253.1 C244.4,251.6 248.3,246.7 251.7,244.3 C255.1,241.9 259.3,240.2 263.5,238.5 C267.7,236.8 272.1,235.1 276.7,234.1 C281.3,233.1 286.4,233.1 291.3,232.6 C296.2,232.1 303.6,231.3 306.0,231.1" stroke="#848484" stroke-width="5.9" opacity="0.36"/>
<path d="M246.0,267.0 C246.5,266.4 246.6,265.6 248.8,263.4 C251.0,261.2 255.2,256.3 259.1,253.8 C263.0,251.3 267.7,249.9 272.3,248.4 C276.9,246.9 282.5,245.6 286.9,244.6 C291.3,243.6 294.8,243.1 298.7,242.6 C302.6,242.1 306.5,241.5 310.4,241.8 C314.3,242.1 320.1,244.1 322.0,244.6" stroke="#848484" stroke-width="6.7" opacity="0.36"/>
<path d="M246.0,246.0 C247.7,244.7 252.0,240.4 256.0,238.0 C260.0,235.6 265.2,233.2 270.0,231.5 C274.8,229.8 280.0,228.2 285.0,227.5 C290.0,226.8 297.5,227.1 300.0,227.0" stroke="#efefef" stroke-width="3.2" opacity="0.75"/>
<path d="M250.0,258.0 C251.7,256.5 256.0,251.5 260.0,249.0 C264.0,246.5 269.0,244.7 274.0,243.0 C279.0,241.3 284.7,240.0 290.0,239.0 C295.3,238.0 301.3,237.0 306.0,237.0 C310.7,237.0 316.0,238.7 318.0,239.0" stroke="#efefef" stroke-width="3.2" opacity="0.75"/>
<path d="M249.0,270.0 C250.8,268.5 255.2,263.6 260.0,261.0 C264.8,258.4 272.2,256.0 278.0,254.5 C283.8,253.0 289.8,252.2 295.0,252.0 C300.2,251.8 305.0,252.1 309.5,253.5 C314.0,254.9 318.8,257.7 322.0,260.5 C325.2,263.3 327.5,267.1 329.0,270.5 C330.5,273.9 330.7,279.2 331.0,281.0" stroke="#efefef" stroke-width="5.5" opacity="0.85"/>
<path d="M228.0,312.0 C229.3,313.5 232.3,318.6 236.0,321.0 C239.7,323.4 244.7,325.6 250.0,326.5 C255.3,327.4 265.0,326.5 268.0,326.5" stroke="#9a9a9a" stroke-width="9.0" opacity="0.60"/>
<path d="M262.0,294.0 C263.7,294.8 268.7,297.2 272.0,299.0 C275.3,300.8 280.3,304.0 282.0,305.0" stroke="#8e8e8e" stroke-width="8.0" opacity="0.55"/>
<path d="M318.0,240.0 C320.0,241.0 326.5,243.2 330.0,246.0 C333.5,248.8 336.8,253.0 339.0,257.0 C341.2,261.0 342.3,265.5 343.0,270.0 C343.7,274.5 343.5,279.7 343.0,284.0 C342.5,288.3 340.5,294.0 340.0,296.0" stroke="#848484" stroke-width="5.5" opacity="0.36"/>
<path d="M300.0,262.0 C302.0,262.7 308.7,263.8 312.0,266.0 C315.3,268.2 318.2,271.3 320.0,275.0 C321.8,278.7 323.3,284.2 323.0,288.0 C322.7,291.8 318.8,296.3 318.0,298.0" stroke="#8c8c8c" stroke-width="6.0" opacity="0.55"/>
<path d="M262.0,290.0 C263.7,291.0 269.0,293.7 272.0,296.0 C275.0,298.3 278.7,302.7 280.0,304.0" stroke="#9a9a9a" stroke-width="7.0" opacity="0.50"/>
<path d="M296.0,300.0 C297.3,301.7 302.3,306.3 304.0,310.0 C305.7,313.7 305.7,320.0 306.0,322.0" stroke="#9c9c9c" stroke-width="7.0" opacity="0.50"/>
</g>
<g fill="none" stroke-linecap="round" stroke-linejoin="round" filter="url(#b1)">
<path d="M224.5,221.5 C224.7,222.9 225.4,227.3 225.9,229.6 C226.4,231.9 226.8,233.5 227.4,235.5 C228.0,237.4 229.2,239.1 229.6,241.3 C230.0,243.5 229.8,247.4 229.9,248.7" stroke="#686868" stroke-width="1.7" opacity="0.90"/>
<path d="M234.7,225.2 C234.8,226.7 235.0,231.1 235.2,234.0 C235.3,236.9 235.3,240.1 235.7,242.8 C236.2,245.5 237.2,247.8 237.7,250.1 C238.1,252.4 238.3,255.6 238.4,256.7" stroke="#686868" stroke-width="2.3" opacity="0.90"/>
<path d="M245.7,226.7 C246.1,227.5 246.7,230.7 247.9,231.8 C249.1,232.9 251.2,233.4 253.0,233.3 C254.9,233.1 257.6,232.2 258.9,231.1 C260.2,230.0 260.4,227.4 260.7,226.7" stroke="#686868" stroke-width="1.7" opacity="0.90"/>
<path d="M251.6,210.5 C252.1,211.5 253.5,214.6 254.5,216.4 C255.5,218.2 257.0,220.7 257.4,221.5" stroke="#686868" stroke-width="1.6" opacity="0.90"/>
<path d="M201.7,251.6 C203.2,251.3 207.6,250.1 210.5,250.1 C213.5,250.1 216.4,251.8 219.3,251.6 C222.3,251.3 226.7,249.1 228.1,248.7" stroke="#686868" stroke-width="1.7" opacity="0.90"/>
<path d="M279.4,206.1 C279.8,207.1 280.7,210.5 281.6,212.0 C282.6,213.5 283.9,214.4 285.3,214.9 C286.7,215.4 289.2,214.9 290.0,214.9" stroke="#686868" stroke-width="2.2" opacity="0.90"/>
<path d="M252.3,247.9 L253.3,250.9" stroke="#606060" stroke-width="1.7" opacity="0.90"/>
<path d="M332.5,204.7 C332.8,205.6 333.3,208.6 334.0,210.5 C334.7,212.5 336.9,214.4 336.9,216.4 C336.9,218.3 334.7,220.3 334.0,222.3 C333.3,224.2 332.8,227.1 332.5,228.1" stroke="#686868" stroke-width="2.0" opacity="0.90"/>
<path d="M326.7,214.9 C326.9,216.4 327.6,220.8 328.1,223.7 C328.6,226.7 329.3,231.1 329.6,232.5" stroke="#686868" stroke-width="2.0" opacity="0.90"/>
<path d="M338.4,198.8 C338.9,199.8 340.1,203.0 341.3,204.7 C342.5,206.4 345.0,208.3 345.7,209.1" stroke="#686868" stroke-width="1.6" opacity="0.90"/>
<path d="M316.4,198.8 L317.9,204.7" stroke="#686868" stroke-width="1.6" opacity="0.90"/>
<path d="M196.5,260.9 C197.7,261.4 201.0,263.2 203.6,263.8 C206.2,264.5 210.5,264.8 211.9,265.0" stroke="#7a7a7a" stroke-width="1.6" opacity="0.90"/>
<path d="M195.3,270.3 C196.3,270.7 199.3,271.3 201.2,272.7 C203.2,274.1 205.0,277.0 207.1,278.6 C209.3,280.2 211.9,281.4 214.2,282.1 C216.6,282.9 220.1,283.1 221.3,283.3" stroke="#7a7a7a" stroke-width="1.6" opacity="0.90"/>
<path d="M194.2,282.1 C195.1,282.3 197.9,282.3 200.1,283.3 C202.2,284.3 205.0,286.3 207.1,288.0 C209.3,289.8 212.3,292.2 213.0,293.9 C213.8,295.7 212.1,297.9 211.9,298.7" stroke="#7a7a7a" stroke-width="1.6" opacity="0.90"/>
<path d="M201.2,272.7 C200.6,273.7 198.5,276.8 197.7,278.6 C196.9,280.4 196.7,282.5 196.5,283.3" stroke="#828282" stroke-width="1.4" opacity="0.90"/>
<path d="M207.1,278.6 C207.5,277.8 208.3,275.5 209.5,273.9 C210.7,272.3 213.4,269.9 214.2,269.2" stroke="#828282" stroke-width="1.4" opacity="0.90"/>
<path d="M224.8,289.2 C225.0,290.0 226.0,292.4 226.0,293.9 C226.0,295.5 225.0,297.9 224.8,298.7" stroke="#7a7a7a" stroke-width="1.6" opacity="0.90"/>
<path d="M227.2,266.8 C227.6,268.0 228.2,271.5 229.6,273.9 C230.9,276.2 233.7,279.2 235.5,281.0 C237.2,282.7 239.6,282.9 240.2,284.5 C240.8,286.1 239.2,289.4 239.0,290.4" stroke="#686868" stroke-width="1.9" opacity="0.90"/>
<path d="M243.7,276.2 C244.7,276.7 248.0,278.1 249.6,279.2 C251.2,280.3 252.6,282.1 253.2,282.7" stroke="#686868" stroke-width="1.7" opacity="0.90"/>
<path d="M249.6,279.2 L252.0,275.1" stroke="#686868" stroke-width="1.6" opacity="0.90"/>
<path d="M246.1,264.4 C247.3,264.8 250.8,266.6 253.2,266.8 C255.5,267.0 258.9,265.8 260.0,265.6" stroke="#686868" stroke-width="1.9" opacity="0.90"/>
<path d="M241.4,290.4 C242.3,290.2 244.9,289.2 247.3,289.2 C249.6,289.2 254.1,290.2 255.5,290.4" stroke="#686868" stroke-width="1.7" opacity="0.90"/>
<path d="M229.6,306.4 C230.3,307.6 232.0,311.5 234.0,313.7 C235.9,315.9 238.4,318.1 241.3,319.6 C244.3,321.0 249.9,322.0 251.6,322.5" stroke="#747474" stroke-width="1.7" opacity="0.90"/>
<path d="M226.7,312.3 C227.6,313.5 230.3,317.6 232.5,319.6 C234.7,321.5 238.6,323.2 239.9,324.0" stroke="#747474" stroke-width="1.6" opacity="0.90"/>
<path d="M242.8,260.9 C244.3,261.9 248.7,265.6 251.6,266.8 C254.5,268.0 257.4,268.3 260.4,268.3 C263.3,268.3 267.7,267.0 269.2,266.8" stroke="#686868" stroke-width="2.0" opacity="0.90"/>
<path d="M292.9,265.3 C294.9,265.1 300.8,263.1 304.7,263.9 C308.6,264.6 313.0,267.0 316.4,269.7 C319.8,272.4 323.2,276.3 325.2,280.0 C327.1,283.7 328.6,288.3 328.1,291.7 C327.6,295.1 324.9,298.3 322.3,300.5 C319.6,302.7 314.9,303.0 312.0,304.9 C309.1,306.9 305.9,311.0 304.7,312.3" stroke="#5e5e5e" stroke-width="3.8" opacity="0.90"/>
<path d="M295.9,274.1 C297.3,274.5 302.2,274.9 304.7,276.3 C307.1,277.8 309.3,280.4 310.5,282.9 C311.7,285.5 312.5,288.5 312.0,291.7 C311.5,294.9 308.3,300.3 307.6,302.0" stroke="#787878" stroke-width="1.6" opacity="0.70"/>
<path d="M326.7,303.5 C329.1,303.0 336.7,302.0 341.3,300.5 C346.0,299.1 350.4,296.9 354.5,294.7 C358.7,292.5 363.3,290.3 366.2,287.3 C369.2,284.4 370.2,280.5 372.1,277.1 C374.1,273.6 376.0,269.5 378.0,266.8 C379.9,264.1 382.9,261.9 383.8,260.9" stroke="#5e5e5e" stroke-width="2.5" opacity="0.90"/>
<path d="M360.4,296.1 C361.4,297.8 364.8,303.0 366.2,306.4 C367.7,309.8 369.2,313.4 369.2,316.7 C369.2,319.9 366.7,324.5 366.2,326.0" stroke="#686868" stroke-width="1.7" opacity="0.90"/>
<path d="M336.9,291.7 C338.4,291.0 342.8,288.8 345.7,287.3 C348.7,285.9 351.6,283.9 354.5,282.9 C357.4,281.9 361.8,281.7 363.3,281.5" stroke="#686868" stroke-width="2.0" opacity="0.90"/>
<path d="M225.0,247.2 C226.3,248.3 230.6,250.9 232.7,253.6 C234.9,256.4 236.6,260.9 237.9,264.0 C239.2,267.0 240.0,270.4 240.5,271.7" stroke="#686868" stroke-width="1.9" opacity="0.90"/>
<path d="M348.7,231.2 C349.7,230.4 352.8,228.1 354.9,226.8 C357.0,225.6 358.7,225.0 361.1,223.7 C363.6,222.3 368.4,219.5 369.9,218.7" stroke="#686868" stroke-width="1.7" opacity="0.90"/>
<path d="M351.2,237.4 C353.0,236.6 358.7,234.3 362.4,232.4 C366.1,230.5 370.3,227.4 373.6,226.2 C376.9,224.9 380.9,225.1 382.3,224.9" stroke="#686868" stroke-width="1.7" opacity="0.90"/>
<path d="M357.4,241.8 C358.7,241.3 362.4,239.6 364.9,238.7 C367.4,237.7 369.0,237.2 372.4,236.2 C375.7,235.1 382.8,233.0 384.8,232.4" stroke="#686868" stroke-width="1.7" opacity="0.90"/>
<path d="M336.2,207.5 C336.0,208.9 335.6,213.3 335.0,216.2 C334.3,219.1 332.7,222.4 332.5,224.9 C332.3,227.4 333.5,230.1 333.7,231.2" stroke="#686868" stroke-width="1.9" opacity="0.90"/>
<path d="M342.4,234.9 C342.7,236.0 342.7,239.1 343.7,241.1 C344.7,243.2 347.8,246.3 348.7,247.4" stroke="#686868" stroke-width="1.7" opacity="0.90"/>
<path d="M351.2,252.4 C352.8,252.0 357.6,250.1 361.1,249.9 C364.7,249.7 368.8,251.3 372.4,251.1 C375.9,250.9 379.4,248.4 382.3,248.6 C385.3,248.8 388.6,251.7 389.8,252.4" stroke="#686868" stroke-width="1.7" opacity="0.90"/>
<path d="M344.9,212.5 C346.2,212.9 350.3,215.0 352.4,215.0 C354.5,215.0 356.6,212.9 357.4,212.5" stroke="#686868" stroke-width="1.4" opacity="0.90"/>
<path d="M372.4,241.1 C373.6,240.9 377.4,239.7 379.9,239.9 C382.3,240.1 386.1,242.0 387.3,242.4" stroke="#686868" stroke-width="1.6" opacity="0.90"/>
<path d="M332.5,258.0 C332.7,259.2 332.9,263.2 333.7,265.5 C334.5,267.8 336.0,270.3 337.5,271.7 C338.9,273.2 341.6,273.8 342.4,274.2" stroke="#686868" stroke-width="1.7" opacity="0.90"/>
<path d="M348.7,260.5 C348.9,261.7 349.5,265.5 349.9,268.0 C350.3,270.5 349.9,273.0 351.2,275.5 C352.4,278.0 355.3,281.5 357.4,282.9 C359.5,284.4 362.6,284.0 363.6,284.2" stroke="#686868" stroke-width="1.7" opacity="0.90"/>
<path d="M367.4,264.2 C368.6,264.7 372.4,266.7 374.9,266.7 C377.4,266.7 380.5,265.3 382.3,264.2 C384.2,263.2 385.5,261.1 386.1,260.5" stroke="#686868" stroke-width="1.7" opacity="0.90"/>
<path d="M336.8,292.7 C338.2,291.7 342.5,288.5 344.9,286.9 C347.3,285.3 350.1,283.6 351.2,282.9" stroke="#5e5e5e" stroke-width="2.6" opacity="0.90"/>
<path d="M337.5,302.9 C339.1,302.1 344.1,299.4 347.4,297.9 C350.8,296.4 354.5,295.6 357.4,294.2 C360.3,292.7 362.8,291.3 364.9,289.2 C367.0,287.1 368.4,284.0 369.9,281.7 C371.3,279.4 373.0,276.5 373.6,275.5" stroke="#5e5e5e" stroke-width="2.2" opacity="0.90"/>
<path d="M372.4,286.7 C373.4,287.1 376.9,289.0 378.6,289.2 C380.3,289.4 381.7,288.1 382.3,287.9" stroke="#686868" stroke-width="1.6" opacity="0.90"/>
<path d="M369.9,291.7 C370.9,292.1 373.6,294.2 376.1,294.2 C378.6,294.2 383.4,292.1 384.8,291.7" stroke="#686868" stroke-width="1.6" opacity="0.90"/>
<path d="M320.0,300.4 C321.2,300.6 325.0,301.1 327.5,301.6 C330.0,302.2 333.7,303.2 335.0,303.5" stroke="#686868" stroke-width="1.9" opacity="0.90"/>
<path d="M294.3,208.7 C295.4,208.9 299.3,209.7 301.2,209.7 C303.0,209.7 304.8,208.9 305.5,208.7" stroke="#5e5e5e" stroke-width="2.0" opacity="0.90"/>
<path d="M302.4,210.0 C302.6,211.2 303.7,214.7 303.7,217.4 C303.7,220.1 302.6,224.7 302.4,226.2" stroke="#5e5e5e" stroke-width="1.9" opacity="0.90"/>
<path d="M329.8,212.4 C329.4,213.7 328.0,217.4 327.3,219.9 C326.7,222.4 325.9,225.3 326.1,227.4 C326.3,229.5 328.2,231.6 328.6,232.4" stroke="#686868" stroke-width="1.9" opacity="0.90"/>
<path d="M337.3,214.9 C336.9,216.2 335.0,219.9 334.8,222.4 C334.6,224.9 335.9,228.7 336.1,229.9" stroke="#686868" stroke-width="1.7" opacity="0.90"/>
<path d="M332.3,201.2 C332.7,202.3 334.0,205.8 334.8,207.5 C335.7,209.1 336.9,210.6 337.3,211.2" stroke="#686868" stroke-width="1.6" opacity="0.90"/>
<path d="M281.2,226.2 C283.7,226.4 291.6,226.8 296.2,227.4 C300.7,228.0 303.9,229.3 308.6,229.9 C313.4,230.5 322.1,230.9 324.9,231.1" stroke="#686868" stroke-width="1.9" opacity="0.90"/>
<path d="M265.0,237.4 C267.1,236.8 273.3,234.5 277.5,233.6 C281.6,232.8 285.8,232.4 289.9,232.4 C294.1,232.4 298.3,232.8 302.4,233.6 C306.6,234.5 312.8,236.8 314.9,237.4" stroke="#686868" stroke-width="1.9" opacity="0.90"/>
<path d="M317.4,206.2 C317.6,207.7 318.4,212.1 318.6,214.9 C318.9,217.7 318.8,221.7 318.9,223.0" stroke="#686868" stroke-width="3.2" opacity="0.60"/>
<path d="M248.7,276.2 C249.1,276.9 251.0,278.7 251.2,280.0 C251.4,281.2 250.1,283.1 249.9,283.7" stroke="#686868" stroke-width="1.4" opacity="0.90"/>
<path d="M227.5,312.4 C228.5,313.6 231.2,318.0 233.7,319.9 C236.2,321.7 239.3,322.8 242.4,323.6 C245.6,324.4 250.8,324.7 252.4,324.9" stroke="#828282" stroke-width="1.4" opacity="0.90"/>
<path d="M225.0,307.4 C225.6,309.1 226.9,314.5 228.7,317.4 C230.6,320.3 235.0,323.6 236.2,324.9" stroke="#828282" stroke-width="1.4" opacity="0.90"/>
<path d="M261.1,292.4 C262.2,292.2 265.5,291.0 267.4,291.2 C269.3,291.4 271.5,293.3 272.4,293.7" stroke="#686868" stroke-width="1.6" opacity="0.90"/>
<path d="M202.0,243.9 C203.2,243.6 206.6,241.9 208.9,242.2 C211.2,242.5 213.5,245.3 215.8,245.6 C218.0,245.9 221.5,244.2 222.6,243.9" stroke="#686868" stroke-width="1.6" opacity="0.90"/>
<path d="M217.5,252.5 C218.0,253.6 219.8,257.0 220.9,259.3 C222.0,261.6 223.2,263.6 224.3,266.2 C225.5,268.8 226.6,272.2 227.8,274.8 C228.9,277.4 230.6,280.5 231.2,281.7" stroke="#686868" stroke-width="1.6" opacity="0.90"/>
<path d="M236.4,247.3 C235.2,248.7 230.9,253.0 229.5,255.9 C228.1,258.8 227.2,261.6 227.8,264.5 C228.3,267.3 230.6,271.1 232.9,273.1 C235.2,275.1 240.1,275.9 241.5,276.5" stroke="#5e5e5e" stroke-width="2.2" opacity="0.90"/>
<path d="M241.5,242.2 C242.1,243.6 244.9,247.9 244.9,250.8 C244.9,253.6 242.6,257.0 241.5,259.3 C240.4,261.6 238.6,263.6 238.1,264.5" stroke="#686868" stroke-width="1.7" opacity="0.90"/>
<path d="M246.7,264.5 C247.8,264.8 251.3,266.2 253.5,266.2 C255.8,266.2 259.0,264.8 260.0,264.5" stroke="#686868" stroke-width="1.7" opacity="0.90"/>
<path d="M212.3,228.4 C212.9,229.6 214.0,233.6 215.8,235.3 C217.5,237.0 221.5,238.2 222.6,238.7" stroke="#686868" stroke-width="1.4" opacity="0.90"/>
<path d="M362.2,298.0 C362.4,299.2 362.5,302.7 363.3,305.1 C364.1,307.4 365.5,310.4 366.9,312.2 C368.3,313.9 370.2,315.5 371.6,315.7 C373.0,315.9 374.6,313.7 375.1,313.3" stroke="#686868" stroke-width="1.9" opacity="0.90"/>
<path d="M369.2,295.6 C370.2,296.4 373.4,298.4 375.1,300.3 C376.9,302.3 378.7,304.9 379.9,307.4 C381.0,310.0 381.4,313.5 382.2,315.7 C383.0,317.9 384.2,319.6 384.6,320.4" stroke="#686868" stroke-width="1.9" opacity="0.90"/>
<path d="M384.6,292.1 C384.8,293.5 385.4,297.6 385.8,300.3 C386.2,303.1 386.9,306.1 386.9,308.6 C386.9,311.2 386.0,314.5 385.8,315.7" stroke="#686868" stroke-width="1.7" opacity="0.90"/>
<path d="M394.0,296.8 C393.8,298.4 393.4,303.3 392.9,306.3 C392.3,309.2 391.5,312.4 390.5,314.5 C389.5,316.7 387.5,318.5 386.9,319.2" stroke="#686868" stroke-width="1.7" opacity="0.90"/>
<path d="M368.1,320.4 C368.6,321.2 370.2,324.0 371.6,325.1 C373.0,326.3 374.9,327.5 376.3,327.5 C377.7,327.5 379.3,325.5 379.9,325.1" stroke="#686868" stroke-width="1.7" opacity="0.90"/>
<path d="M374.0,292.1 C374.9,292.3 378.3,293.5 379.9,293.3 C381.4,293.1 382.8,291.3 383.4,290.9" stroke="#686868" stroke-width="1.6" opacity="0.90"/>
<path d="M355.1,314.5 C355.7,315.5 357.4,318.3 358.6,320.4 C359.8,322.6 360.6,325.3 362.2,327.5 C363.7,329.7 367.1,332.4 368.1,333.4" stroke="#5e5e5e" stroke-width="2.2" opacity="0.90"/>
<path d="M349.2,312.2 L355.1,314.5" stroke="#686868" stroke-width="1.7" opacity="0.90"/>
<path d="M396.4,277.9 C396.2,279.1 395.2,282.6 395.2,285.0 C395.2,287.4 396.2,290.9 396.4,292.1" stroke="#686868" stroke-width="1.6" opacity="0.90"/>
<path d="M388.1,275.6 C387.9,276.7 386.9,280.5 386.9,282.6 C386.9,284.8 387.9,287.6 388.1,288.5" stroke="#686868" stroke-width="1.6" opacity="0.90"/>
<path d="M314.0,204.0 C313.7,205.3 312.6,209.3 312.4,212.0 C312.2,214.7 312.4,217.8 313.0,220.0 C313.6,222.2 314.8,224.6 316.0,225.2 C317.2,225.8 319.0,225.0 320.0,223.5 C321.0,222.0 321.7,218.5 321.8,216.0 C321.9,213.5 321.3,210.5 320.6,208.5 C319.9,206.5 318.0,204.9 317.5,204.2" stroke="#5e5e5e" stroke-width="2.0" opacity="0.90"/>
<path d="M292.5,203.0 L294.0,208.0" stroke="#686868" stroke-width="1.4" opacity="0.90"/>
<path d="M362.9,259.0 C362.8,260.3 362.0,264.6 362.0,267.0 C362.0,269.4 362.3,271.4 362.9,273.2 C363.5,275.0 364.9,276.0 365.5,277.6 C366.1,279.2 366.5,281.4 366.4,282.9 C366.2,284.4 364.9,285.8 364.6,286.4" stroke="#686868" stroke-width="1.7" opacity="0.90"/>
<path d="M340.0,289.0 C340.9,288.6 343.8,287.3 345.3,286.4 C346.8,285.5 348.2,284.1 348.8,283.7" stroke="#686868" stroke-width="1.6" opacity="0.90"/>
<path d="M343.0,250.0 C343.3,251.2 344.8,254.8 345.0,257.0 C345.2,259.2 344.2,262.0 344.0,263.0" stroke="#686868" stroke-width="1.6" opacity="0.90"/>
<path d="M352.0,246.0 C352.7,246.8 354.3,250.0 356.0,251.0 C357.7,252.0 361.0,251.8 362.0,252.0" stroke="#686868" stroke-width="1.4" opacity="0.90"/>
<path d="M372.0,250.0 C373.0,250.7 375.8,253.7 378.0,254.0 C380.2,254.3 383.8,252.3 385.0,252.0" stroke="#686868" stroke-width="1.4" opacity="0.90"/>
<path d="M244.4,237.0 C246.1,235.8 250.5,231.9 254.7,229.7 C258.8,227.5 264.4,225.2 269.3,223.8 C274.2,222.5 278.6,221.8 284.0,221.6 C289.4,221.3 298.7,222.2 301.6,222.3" stroke="#5e5e5e" stroke-width="2.0" opacity="0.90"/>
<path d="M242.9,253.1 C244.4,251.6 248.3,246.7 251.7,244.3 C255.1,241.9 259.3,240.2 263.5,238.5 C267.7,236.8 272.1,235.1 276.7,234.1 C281.3,233.1 286.4,233.1 291.3,232.6 C296.2,232.1 303.6,231.3 306.0,231.1" stroke="#5e5e5e" stroke-width="2.0" opacity="0.90"/>
<path d="M246.0,267.0 C246.5,266.4 246.6,265.6 248.8,263.4 C251.0,261.2 255.2,256.3 259.1,253.8 C263.0,251.3 267.7,249.9 272.3,248.4 C276.9,246.9 282.5,245.6 286.9,244.6 C291.3,243.6 294.8,243.1 298.7,242.6 C302.6,242.1 306.5,241.5 310.4,241.8 C314.3,242.1 320.1,244.1 322.0,244.6" stroke="#5e5e5e" stroke-width="2.3" opacity="0.90"/>
<path d="M259.0,257.5 C260.3,257.4 264.2,257.2 267.0,257.0 C269.8,256.8 274.5,256.6 276.0,256.5" stroke="#828282" stroke-width="1.2" opacity="0.85"/>
<path d="M259.0,260.5 C260.5,260.4 264.8,260.2 268.0,260.0 C271.2,259.8 276.3,259.6 278.0,259.5" stroke="#828282" stroke-width="1.2" opacity="0.85"/>
<path d="M308.3,283.7 C309.3,284.4 312.4,286.2 314.2,288.1 C316.0,289.9 318.5,293.6 319.3,294.7" stroke="#626262" stroke-width="4.2" opacity="0.80"/>
<path d="M303.9,278.5 C305.3,278.8 309.4,278.8 312.0,280.0 C314.6,281.2 317.5,283.4 319.3,285.9 C321.2,288.3 322.4,293.2 323.0,294.7" stroke="#7a7a7a" stroke-width="2.5" opacity="0.60"/>
<path d="M226.0,305.0 C227.0,306.8 229.0,313.0 232.0,316.0 C235.0,319.0 239.7,321.5 244.0,323.0 C248.3,324.5 255.7,324.7 258.0,325.0" stroke="#707070" stroke-width="1.2" opacity="0.70"/>
<path d="M232.0,309.0 C233.3,310.3 236.7,315.0 240.0,317.0 C243.3,319.0 248.0,320.2 252.0,321.0 C256.0,321.8 262.0,321.4 264.0,321.5" stroke="#d8d8d8" stroke-width="1.0" opacity="0.80"/>
<path d="M264.0,290.0 C265.0,290.7 269.3,292.5 270.0,294.0 C270.7,295.5 268.3,298.2 268.0,299.0" stroke="#6a6a6a" stroke-width="1.6" opacity="0.70"/>
<path d="M274.0,298.0 C275.0,298.5 278.3,299.7 280.0,301.0 C281.7,302.3 283.3,305.2 284.0,306.0" stroke="#707070" stroke-width="1.4" opacity="0.70"/>
<path d="M318.0,240.0 C320.0,241.0 326.5,243.2 330.0,246.0 C333.5,248.8 336.8,253.0 339.0,257.0 C341.2,261.0 342.3,265.5 343.0,270.0 C343.7,274.5 343.5,279.7 343.0,284.0 C342.5,288.3 340.5,294.0 340.0,296.0" stroke="#686868" stroke-width="1.9" opacity="0.90"/>
</g>
<path d="M302.0,322.0 C302.8,318.0 304.0,314.8 306.0,312.0 C308.0,309.2 311.0,306.7 314.0,305.0 C317.0,303.3 320.3,302.3 324.0,302.0 C327.7,301.7 332.2,302.0 336.0,303.0 C339.8,304.0 343.7,305.8 347.0,308.0 C350.3,310.2 353.2,313.0 356.0,316.0 C358.8,319.0 361.8,322.9 364.0,326.0 C366.2,329.1 368.3,332.1 369.2,334.5 C370.1,336.9 369.7,338.3 369.4,340.6 C369.1,342.9 368.7,345.7 367.5,348.3 C366.3,350.9 364.3,353.6 362.4,356.0 C360.5,358.4 358.3,360.6 355.9,362.5 C353.5,364.4 351.2,366.2 348.2,367.7 C345.2,369.2 341.1,370.4 337.9,371.5 C334.7,372.6 331.5,373.5 328.9,374.0 C326.2,374.5 324.5,375.1 322.0,374.6 C319.5,374.1 316.5,373.1 314.0,371.0 C311.5,368.9 308.8,365.5 307.0,362.0 C305.2,358.5 304.0,354.3 303.0,350.0 C302.0,345.7 301.2,340.7 301.0,336.0 C300.8,331.3 301.2,326.0 302.0,322.0 Z" fill="#c6c6c6" stroke="#969696" stroke-width="0.8" filter="url(#b1)"/>
<g clip-path="url(#cc)">
<g fill="none" stroke-linecap="round" filter="url(#b1)">
<path d="M357.0,326.0 C357.8,328.0 361.5,334.0 362.0,338.0 C362.5,342.0 361.7,346.3 360.0,350.0 C358.3,353.7 355.3,357.2 352.0,360.0 C348.7,362.8 344.3,365.3 340.0,367.0 C335.7,368.7 328.3,369.5 326.0,370.0" stroke="#a4a4a4" stroke-width="9" opacity="0.75" filter="url(#b2)"/>
<path d="M355.0,322.0 C356.0,324.0 360.2,330.0 361.0,334.0 C361.8,338.0 361.2,342.3 360.0,346.0 C358.8,349.7 356.7,353.2 354.0,356.0 C351.3,358.8 345.7,361.8 344.0,363.0" stroke="#8a8a8a" stroke-width="1.2" opacity="0.7"/>
<path d="M360.0,324.0 C361.1,326.2 365.7,332.8 366.5,337.0 C367.3,341.2 366.2,345.5 365.0,349.0 C363.8,352.5 360.0,356.5 359.0,358.0" stroke="#d0d0d0" stroke-width="2.5" opacity="0.8"/>
<path d="M325.9,332.0 L305.2,332.2 C300.0,330.4 306.7,314.9 310.9,318.1 Z" fill="#e8e8e8" stroke="#8a8a8a" stroke-width="0.75" stroke-linejoin="round"/>
<path d="M326.8,331.0 L308.6,314.6 C304.4,310.0 314.0,303.1 316.9,308.6 Z" fill="#e8e8e8" stroke="#8a8a8a" stroke-width="0.75" stroke-linejoin="round"/>
<path d="M327.8,330.6 L317.5,307.3 C315.3,301.2 326.1,298.7 326.8,305.1 Z" fill="#e8e8e8" stroke="#8a8a8a" stroke-width="0.75" stroke-linejoin="round"/>
<path d="M328.9,330.5 L327.9,305.3 C328.1,298.9 339.2,300.6 337.5,306.8 Z" fill="#e8e8e8" stroke="#8a8a8a" stroke-width="0.75" stroke-linejoin="round"/>
<path d="M330.0,330.9 L338.3,307.7 C340.9,301.9 351.0,308.2 347.1,313.1 Z" fill="#e8e8e8" stroke="#8a8a8a" stroke-width="0.75" stroke-linejoin="round"/>
<path d="M331.0,331.8 L347.6,314.1 C352.3,310.0 359.0,319.8 353.5,322.6 Z" fill="#e8e8e8" stroke="#8a8a8a" stroke-width="0.75" stroke-linejoin="round"/>
<path d="M331.4,332.9 L353.9,323.6 C359.8,321.7 362.0,332.7 355.7,333.1 Z" fill="#e8e8e8" stroke="#8a8a8a" stroke-width="0.75" stroke-linejoin="round"/>
<path d="M331.4,334.1 L352.6,334.1 C358.1,334.5 355.8,344.9 350.6,343.1 Z" fill="#e8e8e8" stroke="#8a8a8a" stroke-width="0.75" stroke-linejoin="round"/>
<path d="M330.9,335.3 L350.0,343.9 C354.8,346.7 347.1,356.2 343.3,352.3 Z" fill="#e8e8e8" stroke="#8a8a8a" stroke-width="0.75" stroke-linejoin="round"/>
<path d="M329.6,336.3 L343.6,354.3 C346.5,359.4 334.1,364.6 332.7,358.9 Z" fill="#e8e8e8" stroke="#8a8a8a" stroke-width="0.75" stroke-linejoin="round"/>
<path d="M328.2,336.5 L331.7,359.2 C331.9,365.1 318.8,363.8 320.2,358.0 Z" fill="#e8e8e8" stroke="#8a8a8a" stroke-width="0.75" stroke-linejoin="round"/>
<path d="M326.8,336.0 L319.7,356.3 C317.2,361.3 306.5,353.9 310.3,349.8 Z" fill="#e8e8e8" stroke="#8a8a8a" stroke-width="0.75" stroke-linejoin="round"/>
<path d="M325.8,334.8 L312.1,347.0 C308.0,349.7 302.4,334.4 307.2,333.2 Z" fill="#e8e8e8" stroke="#8a8a8a" stroke-width="0.75" stroke-linejoin="round"/>
<path d="M318.6,327.9 L307.1,321.4" stroke="#808080" stroke-width="7.7" stroke-dasharray="0.7 1.6" stroke-linecap="butt" opacity="0.5"/>
<path d="M320.9,322.5 L312.0,309.7" stroke="#808080" stroke-width="8.8" stroke-dasharray="0.7 1.6" stroke-linecap="butt" opacity="0.5"/>
<path d="M325.4,320.0 L321.8,304.3" stroke="#808080" stroke-width="8.8" stroke-dasharray="0.7 1.6" stroke-linecap="butt" opacity="0.5"/>
<path d="M330.5,319.9 L332.8,304.1" stroke="#808080" stroke-width="8.8" stroke-dasharray="0.7 1.6" stroke-linecap="butt" opacity="0.5"/>
<path d="M335.5,321.9 L343.5,308.6" stroke="#808080" stroke-width="8.8" stroke-dasharray="0.7 1.6" stroke-linecap="butt" opacity="0.5"/>
<path d="M339.5,326.0 L352.3,317.4" stroke="#808080" stroke-width="8.2" stroke-dasharray="0.7 1.6" stroke-linecap="butt" opacity="0.5"/>
<path d="M341.6,331.0 L356.7,328.2" stroke="#808080" stroke-width="7.7" stroke-dasharray="0.7 1.6" stroke-linecap="butt" opacity="0.5"/>
<path d="M340.1,335.8 L353.4,338.4" stroke="#808080" stroke-width="7.7" stroke-dasharray="0.7 1.6" stroke-linecap="butt" opacity="0.5"/>
<path d="M337.7,340.7 L348.4,349.0" stroke="#808080" stroke-width="8.8" stroke-dasharray="0.7 1.6" stroke-linecap="butt" opacity="0.5"/>
<path d="M333.2,345.2 L338.7,358.6" stroke="#808080" stroke-width="9.4" stroke-dasharray="0.7 1.6" stroke-linecap="butt" opacity="0.5"/>
<path d="M327.2,346.1 L325.8,360.7" stroke="#808080" stroke-width="8.8" stroke-dasharray="0.7 1.6" stroke-linecap="butt" opacity="0.5"/>
<path d="M321.8,343.4 L314.0,354.8" stroke="#808080" stroke-width="8.8" stroke-dasharray="0.7 1.6" stroke-linecap="butt" opacity="0.5"/>
<path d="M319.1,338.0 L308.2,343.1" stroke="#808080" stroke-width="7.7" stroke-dasharray="0.7 1.6" stroke-linecap="butt" opacity="0.5"/>
<path d="M328.5,333.5 L311.3,323.8" stroke="#fafafa" stroke-width="1.5"/>
<path d="M328.5,333.5 L315.2,314.4" stroke="#fafafa" stroke-width="1.8"/>
<path d="M328.5,333.5 L323.1,310.0" stroke="#fafafa" stroke-width="1.8"/>
<path d="M328.5,333.5 L331.9,309.9" stroke="#fafafa" stroke-width="1.8"/>
<path d="M328.5,333.5 L340.6,313.5" stroke="#fafafa" stroke-width="1.8"/>
<path d="M328.5,333.5 L347.6,320.6" stroke="#fafafa" stroke-width="1.6"/>
<path d="M328.5,333.5 L351.2,329.2" stroke="#fafafa" stroke-width="1.5"/>
<path d="M328.5,333.5 L348.5,337.5" stroke="#fafafa" stroke-width="1.5"/>
<path d="M328.5,333.5 L344.5,346.0" stroke="#fafafa" stroke-width="1.8"/>
<path d="M328.5,333.5 L336.7,353.7" stroke="#fafafa" stroke-width="1.9"/>
<path d="M328.5,333.5 L326.3,355.3" stroke="#fafafa" stroke-width="1.8"/>
<path d="M328.5,333.5 L316.9,350.7" stroke="#fafafa" stroke-width="1.8"/>
<path d="M328.5,333.5 L312.2,341.2" stroke="#fafafa" stroke-width="1.5"/>
<circle cx="328.5" cy="333.5" r="4" fill="#f4f4f4"/>
</g>
</g>
<path d="M274.5,333.0 C275.4,330.6 280.1,329.8 283.0,330.0 C285.9,330.2 289.3,332.0 292.0,334.0 C294.7,336.0 296.8,339.0 299.0,342.0 C301.2,345.0 303.2,348.3 305.0,352.0 C306.8,355.7 308.8,360.7 310.0,364.0 C311.2,367.3 312.2,369.3 312.0,372.0 C311.8,374.7 309.9,377.0 309.0,380.0 C308.1,383.0 307.1,386.1 306.9,390.0 C306.6,393.9 307.7,401.0 307.5,403.4 C307.3,405.8 307.1,405.5 305.9,404.6 C304.7,403.7 302.1,400.3 300.2,397.8 C298.3,395.3 296.3,392.9 294.6,389.7 C292.9,386.5 291.1,382.2 289.8,378.5 C288.5,374.8 287.8,371.0 286.6,367.2 C285.4,363.4 284.0,359.6 282.5,355.9 C281.0,352.1 279.0,348.5 277.7,344.7 C276.4,340.9 273.6,335.4 274.5,333.0 Z" fill="#f0f0f0" stroke="#a4a4a4" stroke-width="1.4" filter="url(#b1)"/>
<path d="M281.0,345.0 C281.8,347.2 284.4,353.5 286.0,358.0 C287.6,362.5 288.8,367.3 290.5,372.0 C292.2,376.7 294.1,381.8 296.0,386.0 C297.9,390.2 301.0,395.2 302.0,397.0" fill="none" stroke="#c4c4c4" stroke-width="3" opacity="0.7" filter="url(#b2)"/>
<path d="M287.4,351.1 C287.8,352.7 289.0,357.6 289.8,360.8 C290.6,364.0 291.1,366.9 292.2,370.4 C293.3,373.9 294.9,378.5 296.2,381.7 C297.5,384.9 299.5,388.4 300.2,389.7" fill="none" stroke="#b0b0b0" stroke-width="1.2" filter="url(#b1)"/>
<rect x="188" y="188" width="216" height="220" filter="url(#nz)" opacity="0.28"/>
</g>
</g>

<!-- big ellipses -->
<ellipse class="tl" cx="301.4" cy="28.6" rx="34.1" ry="28"/>
<ellipse class="tl" cx="304.7" cy="437.6" rx="34.1" ry="28.3"/>

<!-- stars -->
<g fill="#ffff66" stroke="#3a84c6" stroke-width="1.25" stroke-linejoin="miter">
<path d="M225.2,106.3 L231.6,92.8 L231.0,105.2 L238.3,103.2 L235.4,109.8 L242.9,111.7 L236.9,117.2 L243.8,123.7 L235.6,122.9 L237.9,134.9 L230.8,126.5 L229.5,138.8 L224.8,127.6 L221.3,143.1 L220.0,129.2 L214.9,133.8 L216.4,125.3 L206.9,126.8 L213.1,120.2 L206.7,112.9 L214.6,110.5 L207.3,98.1 L219.3,107.5 L221.0,98.1 Z"/><path d="M277.3,107.3 L283.5,94.1 L282.9,106.2 L290.0,104.3 L287.2,110.8 L294.6,112.6 L288.7,118.0 L295.4,124.4 L287.4,123.6 L289.6,135.3 L282.7,127.0 L281.4,139.1 L276.9,128.1 L273.4,143.3 L272.1,129.7 L267.2,134.2 L268.7,125.8 L259.4,127.3 L265.4,120.9 L259.2,113.7 L267.0,111.4 L259.8,99.3 L271.5,108.5 L273.2,99.3 Z"/><path d="M338.5,102.0 L348.5,91.4 L347.5,101.2 L358.9,99.6 L354.3,104.8 L366.1,106.3 L356.8,110.6 L367.5,115.8 L354.7,115.1 L358.2,124.6 L347.1,117.9 L345.1,127.6 L337.8,118.8 L332.3,131.0 L330.2,120.0 L322.3,123.7 L324.7,117.0 L309.9,118.1 L319.5,113.0 L309.5,107.2 L321.9,105.4 L310.5,95.6 L329.1,103.0 L331.9,95.6 Z"/>
</g>

<!-- left boxes -->
<rect class="bx" x="17.6" y="9.8" width="139.4" height="30.6" rx="4"/>
<rect class="bx" x="17.6" y="89.6" width="139.4" height="30.6" rx="4"/>
<rect class="bx" x="17.6" y="165.8" width="139.4" height="30.6" rx="4"/>
<rect class="bx" x="17.6" y="418.5" width="139.4" height="30.6" rx="4"/>
<text class="k" x="1" y="29.2">1.</text>
<text class="k" x="1" y="109">2.</text>
<text class="k" x="1" y="185.2">3.</text>
<text class="k" x="1" y="438">4.</text>
<text class="w" x="27" y="29.2">Prodrome</text>
<text class="w" x="27" y="109">Aura</text>
<text class="w" x="27" y="185.2">Ictal phase</text>
<text class="w" x="27" y="438">Postdrome</text>

<!-- right boxes -->
<rect class="bx" x="449.9" y="6.1" width="231.5" height="47.8" rx="4"/>
<rect class="bx" x="449.9" y="70.4" width="231.5" height="29.6" rx="4"/>
<rect class="bx" x="449.9" y="120.1" width="231.5" height="29.5" rx="4"/>
<rect class="bx" x="449.9" y="410" width="231.5" height="48.1" rx="4"/>
<text class="w" x="459.2" y="25.7">Hypothalamic activation and</text>
<text class="w" x="459.2" y="42">reduced cerebral blood flow</text>
<text class="w" x="459.2" y="89.3">Cortical spreading depression</text>
<text class="w" x="459.2" y="138.7">Trigeminovascular activation</text>
<text class="w" x="459.2" y="429.8">Ongoing hypothalamic activation</text>
<text class="w" x="459.2" y="446.3">and reduced cerebral blood flow</text>

<!-- labels left -->
<g text-anchor="end" class="k">
<text x="137" y="222.2">Dura mater</text>
<text x="137" y="256.2">Trigeminal afferents</text>
<text x="137" y="308.2">Trigeminal ganglion</text>
<text x="137" y="331.6">Trigeminal nucleus</text>
<text x="137" y="347.9">caudalis</text>
</g>
<!-- labels right -->
<g class="k" transform="translate(-0.3,0)">
<text x="459.2" y="191.8">Neuropeptides</text>
<text x="459.2" y="219.5">Meningeal blood vessels</text>
<text x="459.2" y="238.7">Thalamic connections to cortical</text>
<text x="459.2" y="255.2">areas</text>
<text x="459.2" y="278.6">Thalamus</text>
<text x="459.2" y="373.2">Upper cervical nerve root</text>
</g>

<g fill="none" stroke="#eec73c" stroke-width="1.35" stroke-linecap="round">
<path d="M214.0,213.8 C213.2,212.1 210.9,206.9 209.5,203.5 C208.1,200.1 206.5,196.2 205.6,193.2 C204.7,190.2 204.3,187.6 204.3,185.4 C204.3,183.2 204.7,181.4 205.6,180.3 C206.5,179.2 207.6,178.8 209.5,178.8 C211.4,178.8 214.2,179.3 217.2,180.3 C220.2,181.3 224.1,183.2 227.5,184.8 C230.9,186.4 234.7,188.3 237.8,189.9 C240.9,191.5 242.8,192.8 246.0,194.5 C249.2,196.2 254.9,199.1 257.2,200.4 C259.5,201.7 259.5,202.1 260.0,202.4"/>
<path d="M238.0,299.8 C237.7,299.6 237.7,300.5 236.4,298.3 C235.1,296.1 232.5,290.9 230.0,286.5 C227.5,282.1 224.2,276.7 221.5,272.0 C218.8,267.3 216.1,262.8 213.5,258.5 C210.9,254.2 208.2,249.8 206.0,246.0 C203.8,242.2 202.0,239.1 200.0,236.0 C198.0,232.9 195.8,230.6 194.0,227.5 C192.2,224.4 190.3,221.2 188.9,217.6 C187.5,214.0 186.4,209.2 185.7,206.0 C184.9,202.8 184.4,200.4 184.4,198.3 C184.4,196.2 184.7,194.8 185.7,193.2 C186.7,191.6 188.4,189.9 190.2,188.7 C192.0,187.5 194.0,186.8 196.6,186.1 C199.2,185.4 202.2,185.1 205.6,184.8 C209.0,184.5 213.1,184.3 217.2,184.2 C221.3,184.1 225.2,184.2 230.0,184.4 C234.8,184.6 239.9,185.0 246.0,185.6 C252.1,186.2 258.6,187.0 266.4,187.8 C274.2,188.6 286.2,189.9 292.8,190.5 C299.4,191.1 301.2,190.8 306.0,191.3 C310.8,191.9 319.2,193.4 321.8,193.8"/>
<path d="M237.6,298.6 C236.5,296.5 233.5,290.5 231.0,286.0 C228.5,281.5 225.2,276.2 222.5,271.5 C219.8,266.8 217.1,262.3 214.5,258.0 C211.9,253.7 209.2,249.2 207.0,245.5 C204.8,241.8 202.0,237.2 201.0,235.5" stroke-width="1.9" stroke="#efc945"/>
<path d="M227.0,219.3 C224.9,219.7 218.4,220.6 214.6,221.5 C210.8,222.4 207.5,223.7 204.3,224.7 C201.1,225.7 196.8,227.0 195.3,227.5"/>
<path d="M299.4,177.9 C299.2,178.8 298.8,181.4 298.4,183.0 C297.9,184.6 297.6,185.2 296.7,187.2 C295.8,189.2 294.3,192.7 292.8,195.1 C291.3,197.5 289.3,199.8 287.5,201.7 C285.7,203.6 283.1,205.5 282.2,206.3"/>
</g>
<g class="ar">
<path d="M150,218 H228"/>
<path d="M150,252.7 H197.6"/>
<path d="M150,304.3 H238"/>
<path d="M150,327.7 H282"/>
<path d="M355.5,187.7 H447"/>
<path d="M286.5,215.9 H447"/>
<path d="M318,243.1 H447"/>
<path d="M293,275.2 H447"/>
<path d="M318,369.4 H447"/>
</g>
<g class="ah">
<path d="M141.8,218 l9.4,-5.1 v10.2 z"/>
<path d="M141.8,252.7 l9.4,-5.1 v10.2 z"/>
<path d="M141.8,304.3 l9.4,-5.1 v10.2 z"/>
<path d="M141.8,327.7 l9.4,-5.1 v10.2 z"/>
<path d="M454.6,187.7 l-9.4,-5.1 v10.2 z"/>
<path d="M454.6,215.9 l-9.4,-5.1 v10.2 z"/>
<path d="M454.6,243.1 l-9.4,-5.1 v10.2 z"/>
<path d="M454.6,275.2 l-9.4,-5.1 v10.2 z"/>
<path d="M454.6,369.4 l-9.4,-5.1 v10.2 z"/>
</g>
<circle cx="319.8" cy="181.3" r="6.5" fill="#45169a" stroke="#2c2496" stroke-width="1"/>
<circle cx="344.7" cy="187.4" r="7.8" fill="#e0690f" stroke="#4a5a78" stroke-width="1"/>
<circle cx="366.9" cy="201.7" r="6.3" fill="#33ee33" stroke="#2a8a3a" stroke-width="1"/>
<circle cx="271" cy="211.7" r="9.95" fill="#a20d0d"/>
<ellipse fill="#0a8e9a" cx="238.9" cy="216.5" rx="12" ry="9.7"/>
<ellipse fill="#0a8e9a" cx="281" cy="275.9" rx="12.6" ry="9.3"/>
<ellipse fill="#0a8e9a" cx="248.8" cy="304.5" rx="12" ry="9.3"/>
<path d="M288.2,349 L292.5,344 L293.6,347.3 Z M303,340.6 L298.5,341 L300.8,344.2 Z" fill="#1c1c90" stroke="#1c1c90" stroke-width="0.6" stroke-linejoin="round"/>
<path d="M304.3,369.2 L313.9,366.4 L299,337 L289.8,341.2 Z" fill="#a50e13"/>
<ellipse fill="#0a8e9a" cx="291.4" cy="328" rx="12.2" ry="17.1" transform="rotate(17 291.4 328)"/>
<path d="M290,314 L287.8,292.7 L282.2,293.6 L288.6,283.2 L295.5,290.9 L292.6,291.8 L294.8,313.5 Z" fill="#0f9196"/>
<path d="M256.4,305.3 L253.8,312.8 L280.3,325.8 L279.5,330.6 L291.4,326.2 L287,316 L284.6,318.8 Z" fill="#a50e13"/>
<ellipse fill="#0a8e9a" cx="307.6" cy="376.6" rx="12.2" ry="10"/>
<g fill="none" stroke="#40ec4e" stroke-width="2.6" stroke-linejoin="round" stroke-linecap="round">
<path d="M272.3,285.2 L289.6,249.3 L296,244 L303.6,241.3"/>
<path d="M283,279.2 L294.3,251.3"/>
<path d="M296,251.4 L302.6,242 L308.8,247.6 L307.9,254.5 L303.4,261 L297,258.2 Z"/>
<path d="M309.6,248 L316.9,244 L315.5,242.6 L320.9,245.3 L318.2,249.3"/>
<path d="M317.6,250 L327.5,234.7"/>
</g>
</svg>
</body>
</html>
